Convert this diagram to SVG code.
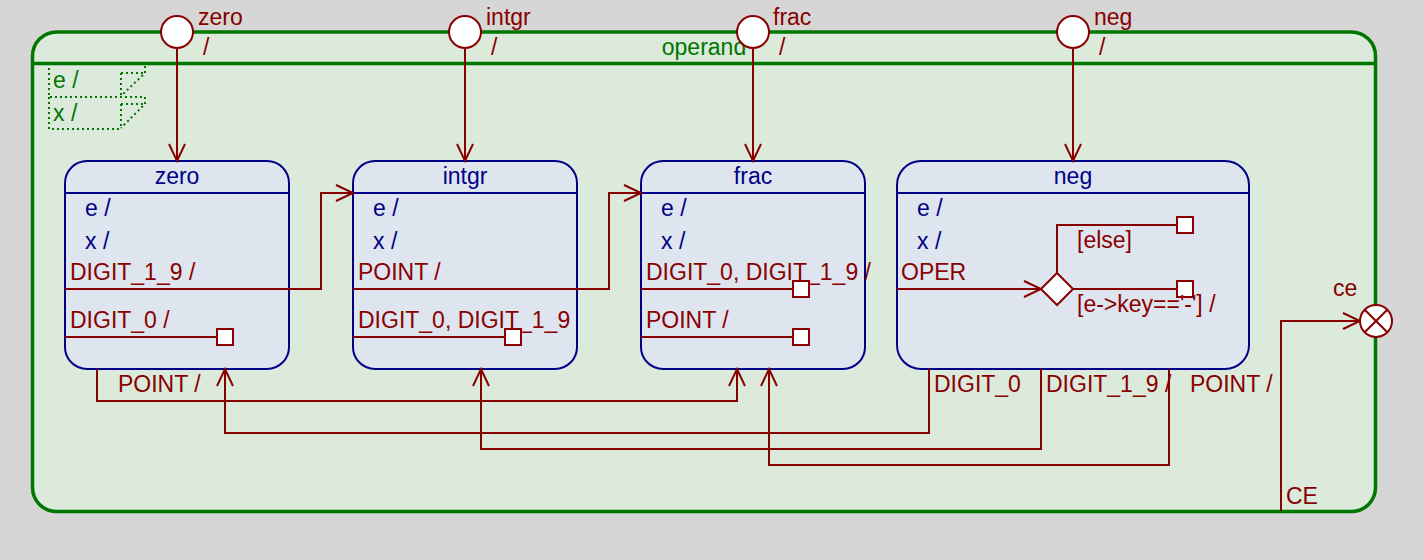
<svg xmlns="http://www.w3.org/2000/svg" width="1424" height="560" viewBox="0 0 1424 560">
<style>
text{font-family:"Liberation Sans",Arial,sans-serif;font-size:23px}
.g{fill:#007700}
.b{fill:#000088}
.r{fill:#880000}
.st{fill:#dee5ee;stroke:#000088;stroke-width:2}
.sep{stroke:#000088;stroke-width:2}
.c{fill:none;stroke:#880000;stroke-width:2}
.sq{fill:#fff;stroke:#880000;stroke-width:2}
.ps{fill:#fff;stroke:#880000;stroke-width:2}
.dot{fill:none;stroke:#007700;stroke-width:2;stroke-dasharray:2 3}
.mid{text-anchor:middle}
</style>
<defs>
<marker id="arr" viewBox="-18 -9 19 18" refX="0" refY="0" markerWidth="19" markerHeight="18" markerUnits="userSpaceOnUse" orient="auto" overflow="visible">
<path d="M-17,-8 L0,0 L-17,8" fill="none" stroke="#880000" stroke-width="2"/>
</marker>
</defs>
<rect x="0" y="0" width="1424" height="560" fill="#d6d6d6"/>
<g id="operand">
<rect x="32.5" y="32" width="1343" height="479.5" rx="24" ry="24" fill="#dbeadb" stroke="#007700" stroke-width="3.5"/>
<line x1="32.5" y1="63.5" x2="1375.5" y2="63.5" stroke="#007700" stroke-width="3.5"/>
<text class="g mid" x="704" y="55">operand</text>
<path class="dot" d="M49,68 V97 H145 M121,73 V97 M121,73 H145 M145,66 V73 L121,96"/>
<path class="dot" d="M49,97 V129 H121 M121,104 V129 M121,104 H145 M145,97 V104 L121,128"/>
<text class="g" x="53" y="88">e /</text>
<text class="g" x="53" y="121">x /</text>
</g>
<g id="zero">
<rect class="st" x="65" y="161" width="224" height="208" rx="22" ry="22"/>
<line class="sep" x1="65" y1="193" x2="289" y2="193"/>
<text class="b mid" x="177" y="184">zero</text>
<text class="b" x="85" y="216">e /</text>
<text class="b" x="85" y="249">x /</text>
</g>
<g id="intgr">
<rect class="st" x="353" y="161" width="224" height="208" rx="22" ry="22"/>
<line class="sep" x1="353" y1="193" x2="577" y2="193"/>
<text class="b mid" x="465" y="184">intgr</text>
<text class="b" x="373" y="216">e /</text>
<text class="b" x="373" y="249">x /</text>
</g>
<g id="frac">
<rect class="st" x="641" y="161" width="224" height="208" rx="22" ry="22"/>
<line class="sep" x1="641" y1="193" x2="865" y2="193"/>
<text class="b mid" x="753" y="184">frac</text>
<text class="b" x="661" y="216">e /</text>
<text class="b" x="661" y="249">x /</text>
</g>
<g id="neg">
<rect class="st" x="897" y="161" width="352" height="208" rx="24" ry="24"/>
<line class="sep" x1="897" y1="193" x2="1249" y2="193"/>
<text class="b mid" x="1073" y="184">neg</text>
<text class="b" x="917" y="216">e /</text>
<text class="b" x="917" y="249">x /</text>
</g>
<g id="connectors">
<path class="c" d="M177,48 V161" marker-end="url(#arr)"/>
<path class="c" d="M465,48 V161" marker-end="url(#arr)"/>
<path class="c" d="M753,48 V161" marker-end="url(#arr)"/>
<path class="c" d="M1073,48 V161" marker-end="url(#arr)"/>
<text class="r" x="203" y="55">/</text>
<text class="r" x="491" y="55">/</text>
<text class="r" x="779" y="55">/</text>
<text class="r" x="1099" y="55">/</text>
<text class="r" x="70" y="280">DIGIT_1_9 /</text>
<path class="c" d="M65,289 H321 V193 H353" marker-end="url(#arr)"/>
<text class="r" x="70" y="328">DIGIT_0 /</text>
<path class="c" d="M65,337 H217"/>
<rect class="sq" x="217" y="329" width="16" height="16"/>
<text class="r" x="358" y="280">POINT /</text>
<path class="c" d="M353,289 H609 V193 H641" marker-end="url(#arr)"/>
<text class="r" x="358" y="328">DIGIT_0, DIGIT_1_9</text>
<path class="c" d="M353,337 H505"/>
<rect class="sq" x="505" y="329" width="16" height="16"/>
<text class="r" x="646" y="280">DIGIT_0, DIGIT_1_9 /</text>
<path class="c" d="M641,289 H793"/>
<rect class="sq" x="793" y="281" width="16" height="16"/>
<text class="r" x="646" y="328">POINT /</text>
<path class="c" d="M641,337 H793"/>
<rect class="sq" x="793" y="329" width="16" height="16"/>
<text class="r" x="901" y="280">OPER</text>
<path class="c" d="M897,289 H1041" marker-end="url(#arr)"/>
<path class="c" d="M1057,273 V225 H1177"/>
<path class="c" d="M1073,289 H1177"/>
<polygon class="sq" points="1057,273 1073,289 1057,305 1041,289"/>
<rect class="sq" x="1177" y="217" width="16" height="16"/>
<rect class="sq" x="1177" y="281" width="16" height="16"/>
<text class="r" x="1077" y="248">[else]</text>
<text class="r" x="1077" y="312">[e-&gt;key=='-'] /</text>
<path class="c" d="M97,369 V401 H737 V369" marker-end="url(#arr)"/>
<text class="r" x="118" y="392">POINT /</text>
<path class="c" d="M929,369 V433 H225 V369" marker-end="url(#arr)"/>
<text class="r" x="934" y="392">DIGIT_0</text>
<path class="c" d="M1041,369 V449 H481 V369" marker-end="url(#arr)"/>
<text class="r" x="1046" y="392">DIGIT_1_9 /</text>
<path class="c" d="M1169,369 V465 H769 V369" marker-end="url(#arr)"/>
<text class="r" x="1190" y="392">POINT /</text>
<path class="c" d="M1281,511 V321 H1360" marker-end="url(#arr)"/>
<text class="r" x="1286" y="504">CE</text>
</g>
<g id="init_zero">
<circle class="ps" cx="177" cy="32" r="16"/>
<text class="r" x="198" y="25">zero</text>
</g>
<g id="init_intgr">
<circle class="ps" cx="465" cy="32" r="16"/>
<text class="r" x="486" y="25">intgr</text>
</g>
<g id="init_frac">
<circle class="ps" cx="753" cy="32" r="16"/>
<text class="r" x="773" y="25">frac</text>
</g>
<g id="init_neg">
<circle class="ps" cx="1073" cy="32" r="16"/>
<text class="r" x="1094" y="25">neg</text>
</g>
<g id="exit_ce">
<circle class="ps" cx="1376" cy="321" r="16"/>
<path class="c" d="M1364.7,309.7 L1387.3,332.3 M1387.3,309.7 L1364.7,332.3"/>
<text class="r" x="1333" y="296">ce</text>
</g>
</svg>
